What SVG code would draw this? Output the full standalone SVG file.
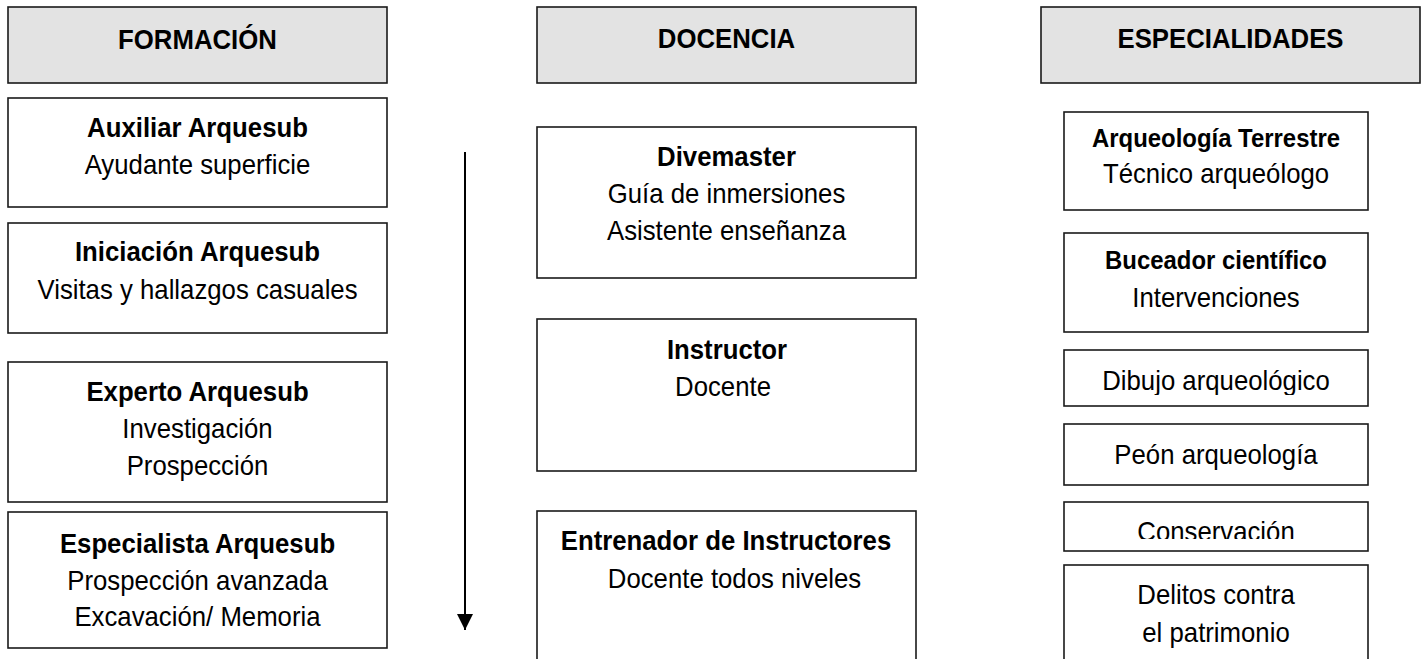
<svg xmlns="http://www.w3.org/2000/svg" width="1426" height="659" viewBox="0 0 1426 659">
<style>
  .box { fill: #ffffff; stroke: #1a1a1a; stroke-width: 1.6; }
  .hdr { fill: #e3e3e3; stroke: #1a1a1a; stroke-width: 1.6; }
  text { font-family: "Liberation Sans", Arial, sans-serif; fill: #000; text-anchor: middle; }
  .b { font-weight: bold; font-size: 28px; }
  .r { font-size: 28px; }
  .b3 { font-weight: bold; font-size: 26px; }
  .conn { stroke: #000; stroke-width: 2; fill: none; }
</style>
<defs>
  <marker id="arrow" viewBox="0 0 16 16" refX="16" refY="8" markerWidth="16" markerHeight="16" markerUnits="userSpaceOnUse" orient="auto">
    <path d="M0,0 L16,8 L0,16 Z" fill="#000"/>
  </marker>
  <clipPath id="clipDibujo"><rect x="1064" y="350" width="304" height="45"/></clipPath>
  <clipPath id="clipCons"><rect x="1064" y="502" width="304" height="37"/></clipPath>
</defs>
<rect width="1426" height="659" fill="#ffffff"/>

<!-- Column 1: FORMACIÓN -->
<g id="hdr-formacion">
  <rect class="hdr" x="8" y="7" width="379" height="76"/>
  <text class="b" transform="translate(197.5 49) scale(0.92 1)">FORMACIÓN</text>
</g>
<g id="auxiliar">
  <rect class="box" x="8" y="98" width="379" height="109"/>
  <text class="b" transform="translate(197.5 137) scale(0.92 1)">Auxiliar Arquesub</text>
  <text class="r" transform="translate(197.5 174) scale(0.92 1)">Ayudante superficie</text>
</g>
<g id="iniciacion">
  <rect class="box" x="8" y="223" width="379" height="110"/>
  <text class="b" transform="translate(197.5 261) scale(0.92 1)">Iniciación Arquesub</text>
  <text class="r" transform="translate(197.5 299) scale(0.92 1)">Visitas y hallazgos casuales</text>
</g>
<g id="experto">
  <rect class="box" x="8" y="362" width="379" height="140"/>
  <text class="b" transform="translate(197.5 401) scale(0.92 1)">Experto Arquesub</text>
  <text class="r" transform="translate(197.5 438) scale(0.92 1)">Investigación</text>
  <text class="r" transform="translate(197.5 475) scale(0.92 1)">Prospección</text>
</g>
<g id="especialista">
  <rect class="box" x="8" y="512" width="379" height="136"/>
  <text class="b" transform="translate(197.5 553) scale(0.92 1)">Especialista Arquesub</text>
  <text class="r" transform="translate(197.5 590) scale(0.92 1)">Prospección avanzada</text>
  <text class="r" transform="translate(197.5 626) scale(0.92 1)">Excavación/ Memoria</text>
</g>

<!-- Column 2: DOCENCIA -->
<g id="hdr-docencia">
  <rect class="hdr" x="537" y="7" width="379" height="76"/>
  <text class="b" transform="translate(726.5 48) scale(0.92 1)">DOCENCIA</text>
</g>
<g id="divemaster">
  <rect class="box" x="537" y="127" width="379" height="151"/>
  <text class="b" transform="translate(726.5 166) scale(0.92 1)">Divemaster</text>
  <text class="r" transform="translate(726.5 203) scale(0.92 1)">Guía de inmersiones</text>
  <text class="r" transform="translate(726.5 240) scale(0.92 1)">Asistente enseñanza</text>
</g>
<g id="instructor">
  <rect class="box" x="537" y="319" width="379" height="152"/>
  <text class="b" transform="translate(727 359) scale(0.92 1)">Instructor</text>
  <text class="r" transform="translate(723 396) scale(0.92 1)">Docente</text>
</g>
<g id="entrenador">
  <rect class="box" x="537" y="511" width="379" height="170"/>
  <text class="b" transform="translate(726 550) scale(0.92 1)">Entrenador de Instructores</text>
  <text class="r" transform="translate(734.5 588) scale(0.92 1)">Docente todos niveles</text>
</g>

<!-- Column 3: ESPECIALIDADES -->
<g id="hdr-especialidades">
  <rect class="hdr" x="1041" y="7" width="379" height="76"/>
  <text class="b" transform="translate(1230.5 48) scale(0.92 1)">ESPECIALIDADES</text>
</g>
<g id="arqueologia-terrestre">
  <rect class="box" x="1064" y="112" width="304" height="98"/>
  <text class="b3" transform="translate(1216 147) scale(0.92 1)">Arqueología Terrestre</text>
  <text class="r" transform="translate(1216 183) scale(0.92 1)">Técnico arqueólogo</text>
</g>
<g id="buceador">
  <rect class="box" x="1064" y="233" width="304" height="99"/>
  <text class="b3" transform="translate(1216 269) scale(0.92 1)">Buceador científico</text>
  <text class="r" transform="translate(1216 307) scale(0.92 1)">Intervenciones</text>
</g>
<g id="dibujo">
  <rect class="box" x="1064" y="350" width="304" height="56"/>
  <g clip-path="url(#clipDibujo)">
    <text class="r" transform="translate(1216 390) scale(0.92 1)">Dibujo arqueológico</text>
  </g>
</g>
<g id="peon">
  <rect class="box" x="1064" y="424" width="304" height="61"/>
  <text class="r" transform="translate(1216 464) scale(0.92 1)">Peón arqueología</text>
</g>
<g id="conservacion">
  <rect class="box" x="1064" y="502" width="304" height="49"/>
  <g clip-path="url(#clipCons)">
    <text class="r" transform="translate(1216 541) scale(0.92 1)">Conservación</text>
  </g>
</g>
<g id="delitos">
  <rect class="box" x="1064" y="565" width="304" height="120"/>
  <text class="r" transform="translate(1216 604) scale(0.92 1)">Delitos contra</text>
  <text class="r" transform="translate(1216 642) scale(0.92 1)">el patrimonio</text>
</g>

<!-- Connectors -->
<g id="connectors">
  <line class="conn" x1="465" y1="152" x2="465" y2="630" marker-end="url(#arrow)"/>
</g>
</svg>
